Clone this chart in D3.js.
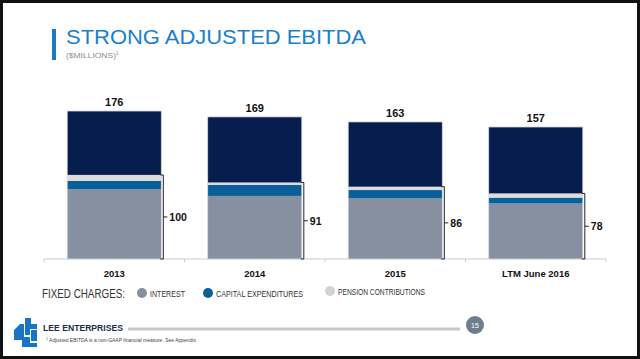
<!DOCTYPE html>
<html><head><meta charset="utf-8">
<script src="https://cdn.jsdelivr.net/npm/d3@7"></script>
<style>html,body{margin:0;padding:0;background:#fff;}svg{display:block;font-family:"Liberation Sans",Arial,sans-serif;}</style>
</head><body>
<script>
const categories = ["2013", "2014", "2015", "LTM June 2016"];
const ebitda = [176, 169, 163, 157];
const fixedCharges = [100, 91, 86, 78];
const interest = [83, 75, 72, 66];
const capex = [10, 13, 10, 7];
const pension = [7, 3, 4, 5];
const legendLabels = ["INTEREST", "CAPITAL EXPENDITURES", "PENSION CONTRIBUTIONS"];

const W = 640, H = 359;
const colors = {navy: "#061d4d", interest: "#8790a1", capex: "#0b5f98", pension: "#dcdcdc"};

const svg = d3.select("body").append("svg").attr("width", W).attr("height", H);
svg.append("rect").attr("x", 1.5).attr("y", 1.5).attr("width", W - 3).attr("height", H - 3)
  .attr("fill", "#fff").attr("stroke", "#111").attr("stroke-width", 3);

// Title
svg.append("rect").attr("x", 52).attr("y", 29).attr("width", 4).attr("height", 31).attr("fill", "#1a7cc6");
svg.append("text").attr("x", 66).attr("y", 44).attr("font-size", 20).attr("fill", "#1a7fcc")
  .attr("textLength", 300).attr("lengthAdjust", "spacingAndGlyphs")
  .text("STRONG ADJUSTED EBITDA");
const sub = svg.append("text").attr("x", 66).attr("y", 58).attr("font-size", 7.5).attr("fill", "#8a8a8a");
sub.append("tspan").attr("textLength", 50).attr("lengthAdjust", "spacingAndGlyphs").text("($MILLIONS)");
sub.append("tspan").attr("font-size", 4.5).attr("dy", -3).text("1");

const x = d3.scaleBand().domain(categories).range([44, 606]).paddingInner(0.33).paddingOuter(0.165);
const y = d3.scaleLinear().domain([0, 176]).range([259, 111]);

// axis
const axisG = svg.append("g").attr("transform", `translate(0,${y(0)})`);
axisG.append("line").attr("x1", 44).attr("x2", 606).attr("stroke", "#c8ccd2").attr("stroke-width", 1);
const bounds = [44].concat(categories.map(c => x(c) + x.bandwidth() + x.step() * x.paddingInner() / 2));
bounds[bounds.length - 1] = 606;
axisG.selectAll("line.tk").data(bounds).join("line").attr("class", "tk")
  .attr("x1", d => d).attr("x2", d => d).attr("y1", 0).attr("y2", 3).attr("stroke", "#c8ccd2");

const data = categories.map((c, i) => ({c, total: ebitda[i], fc: fixedCharges[i], interest: interest[i], capex: capex[i], pension: pension[i]}));

const g = svg.append("g");
data.forEach(d => {
  const x0 = x(d.c), bw = x.bandwidth();
  const segs = [
    {y0: 0, y1: d.interest, col: colors.interest},
    {y0: d.interest, y1: d.interest + d.capex, col: colors.capex},
    {y0: d.interest + d.capex, y1: d.fc, col: colors.pension},
    {y0: d.fc, y1: d.total, col: colors.navy}
  ];
  segs.forEach(s => {
    g.append("rect").attr("x", x0).attr("width", bw)
      .attr("y", y(s.y1)).attr("height", y(s.y0) - y(s.y1)).attr("fill", s.col);
  });
  g.append("rect").attr("x", x0).attr("width", bw).attr("y", y(d.total)).attr("height", y(0) - y(d.total))
    .attr("fill", "none").attr("stroke", "#d8dbe0").attr("stroke-width", 0.8);
  g.append("text").attr("x", x0 + bw / 2).attr("y", y(d.total) - 5).attr("text-anchor", "middle")
    .attr("font-size", 11).attr("font-weight", "bold").attr("fill", "#111").text(d.total);
  const bx = x0 + bw + 2, yt = y(d.fc), yb = y(0), ym = (yt + yb) / 2;
  g.append("path").attr("d", `M${bx - 3},${yt} L${bx},${yt} L${bx},${yb} L${bx - 3},${yb} M${bx},${ym} L${bx + 4},${ym}`)
    .attr("fill", "none").attr("stroke", "#222").attr("stroke-width", 1);
  g.append("text").attr("x", bx + 6).attr("y", ym + 4).attr("font-size", 10.5).attr("font-weight", "bold")
    .attr("fill", "#111").text(d.fc);
});

// category labels
svg.selectAll("text.cat").data(categories).join("text").attr("class", "cat")
  .attr("x", d => x(d) + x.bandwidth() / 2).attr("y", 277).attr("text-anchor", "middle")
  .attr("font-size", 9.5).attr("font-weight", "bold").attr("fill", "#111").text(d => d);

// legend
svg.append("text").attr("x", 42).attr("y", 298).attr("font-size", 12.5).attr("fill", "#333")
  .attr("textLength", 83).attr("lengthAdjust", "spacingAndGlyphs").text("FIXED CHARGES:");
const legX = [142, 208, 330];
const legW = [35, 87, 87];
const legCols = [colors.interest, colors.capex, "#d3d3d3"];
const legY = [293, 293, 291];
legendLabels.forEach((l, i) => {
  svg.append("circle").attr("cx", legX[i]).attr("cy", legY[i]).attr("r", 5).attr("fill", legCols[i]);
  svg.append("text").attr("x", legX[i] + 8).attr("y", legY[i] + 3.5).attr("font-size", 9).attr("fill", "#333")
    .attr("textLength", legW[i]).attr("lengthAdjust", "spacingAndGlyphs").text(l);
});

// footer
const logo = svg.append("g").attr("fill", "#1a74c4");
logo.append("path").attr("d", "M25,318 L31,318 L31,324 L37,324 L37,329 L30,329 L30,335 L25,335 Z");
logo.append("path").attr("d", "M14,330 L20,324 L24,324 L24,337 L30,337 L30,343 L37,343 L37,347 L22,347 L22,340 L14,340 Z");
logo.append("path").attr("d", "M31,330 L37,330 L37,341 L31,341 Z");
svg.append("text").attr("x", 43).attr("y", 331).attr("font-size", 9.5).attr("font-weight", "bold")
  .attr("fill", "#1d2a4a").attr("textLength", 80).attr("lengthAdjust", "spacingAndGlyphs").text("LEE ENTERPRISES");
svg.append("rect").attr("x", 128).attr("y", 327.5).attr("width", 332).attr("height", 3).attr("fill", "#c4c8cf");
svg.append("circle").attr("cx", 475).attr("cy", 325).attr("r", 9).attr("fill", "#6e7d8f");
svg.append("text").attr("x", 475).attr("y", 328).attr("text-anchor", "middle").attr("font-size", 7)
  .attr("fill", "#fff").text("15");
const fn = svg.append("text").attr("x", 46).attr("y", 342).attr("font-size", 5).attr("fill", "#444");
fn.append("tspan").attr("font-size", 3.5).attr("dy", -2).text("1");
fn.append("tspan").attr("dy", 2).attr("textLength", 148).attr("lengthAdjust", "spacingAndGlyphs")
  .text(" Adjusted EBITDA is a non-GAAP financial measure. See Appendix");
</script>
</body></html>
